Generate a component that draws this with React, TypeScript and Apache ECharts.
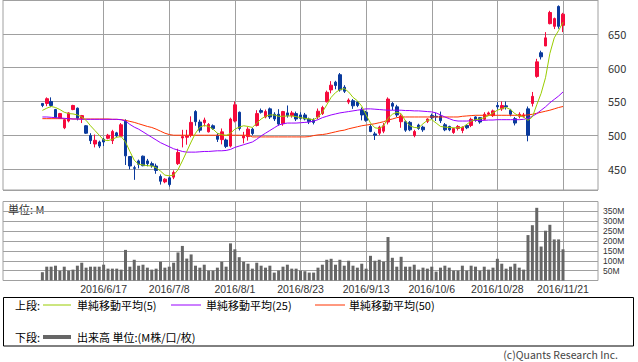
import React, { useEffect, useRef } from 'react';
import * as echarts from 'echarts';

const DATES = [
  '2016/5/30','2016/5/31','2016/6/1','2016/6/2','2016/6/3','2016/6/6','2016/6/7','2016/6/8','2016/6/9','2016/6/10',
  '2016/6/13','2016/6/14','2016/6/15','2016/6/16','2016/6/17','2016/6/20','2016/6/21','2016/6/22','2016/6/23','2016/6/24',
  '2016/6/27','2016/6/28','2016/6/29','2016/6/30','2016/7/1','2016/7/4','2016/7/5','2016/7/6','2016/7/7','2016/7/8',
  '2016/7/11','2016/7/12','2016/7/13','2016/7/14','2016/7/15','2016/7/19','2016/7/20','2016/7/21','2016/7/22','2016/7/25',
  '2016/7/26','2016/7/27','2016/7/28','2016/7/29','2016/8/1','2016/8/2','2016/8/3','2016/8/4','2016/8/5','2016/8/8',
  '2016/8/9','2016/8/10','2016/8/12','2016/8/15','2016/8/16','2016/8/17','2016/8/18','2016/8/19','2016/8/22','2016/8/23',
  '2016/8/24','2016/8/25','2016/8/26','2016/8/29','2016/8/30','2016/8/31','2016/9/1','2016/9/2','2016/9/5','2016/9/6',
  '2016/9/7','2016/9/8','2016/9/9','2016/9/12','2016/9/13','2016/9/14','2016/9/15','2016/9/16','2016/9/20','2016/9/21',
  '2016/9/23','2016/9/26','2016/9/27','2016/9/28','2016/9/29','2016/9/30','2016/10/3','2016/10/4','2016/10/5','2016/10/6',
  '2016/10/7','2016/10/11','2016/10/12','2016/10/13','2016/10/14','2016/10/17','2016/10/18','2016/10/19','2016/10/20','2016/10/21',
  '2016/10/24','2016/10/25','2016/10/26','2016/10/27','2016/10/28','2016/10/31','2016/11/1','2016/11/2','2016/11/4','2016/11/7',
  '2016/11/8','2016/11/9','2016/11/10','2016/11/11','2016/11/14','2016/11/15','2016/11/16','2016/11/17','2016/11/18','2016/11/21',
];

const LABEL_DATES = ['2016/6/17', '2016/7/8', '2016/8/1', '2016/8/23', '2016/9/13', '2016/10/6', '2016/10/28', '2016/11/21'];

const OPEN = [
  547, 547, 550, 538, 525, 511, 521, 538, 540, 525,
  514, 499.5, 487, 490, 494, 495.5, 492, 503.5, 498.5, 521,
  468.5, 452, 462, 469, 462, 458, 454.5, 439, 431, 437,
  438, 458, 496, 497, 500, 535, 519.5, 518.5, 505, 514,
  500, 493.5, 493, 484, 521, 534, 496, 498, 509, 514.5,
  536.5, 527, 539, 531, 531, 517, 533, 529, 532, 530,
  530, 524, 522, 527, 532, 549.5, 567, 578.5, 589.5, 571,
  549, 551, 549, 537.5, 534, 513, 502, 503, 506, 519.5,
  547, 542, 520, 520, 519, 499.5, 515, 512, 520.5, 529,
  528, 528.5, 515.5, 513, 504, 510, 507, 514.5, 514.5, 527,
  526, 523.5, 531, 529, 544, 539, 543.5, 537, 524.5, 528,
  528, 539, 547, 587, 622, 632, 665, 661, 690.5, 662.5,
];
const CLOSE = [
  544, 554, 544, 526, 532, 523, 533, 544, 525, 529,
  503, 492, 492.5, 484, 490, 500, 505.5, 499, 515.5, 469.5,
  454.5, 451, 457, 455, 458, 455, 448, 432, 435, 427,
  445, 474.5, 498, 499, 519, 520, 507.5, 522.5, 516, 510,
  494, 505, 483.5, 524, 545, 510, 499, 509, 502.5, 532,
  534, 535, 527, 524, 516.5, 535, 529, 533, 524, 525,
  524, 520, 519, 535.5, 541, 563.5, 574, 573.5, 567, 565,
  552, 543.5, 544, 530, 522, 505.5, 500, 512, 514, 553.5,
  543, 530, 528.5, 507.5, 508, 505.5, 510, 508, 524, 526,
  527, 521.5, 508, 508, 510, 513, 512, 511, 523.5, 522,
  519.5, 531, 533, 536, 542, 544, 542, 531, 518, 531,
  530, 500, 557.5, 608.5, 616, 644, 681.5, 672.5, 661, 679,
];
const LOW = [
  541.5, 543, 541.5, 525, 524, 509, 519, 537, 522, 518,
  502, 487, 482, 481, 484, 494, 487, 497, 497, 456,
  449.5, 434, 451, 454, 454, 452, 443, 427, 429, 424,
  435, 456, 482, 486, 497, 514, 504, 513, 504, 508,
  490, 486.5, 481, 482, 519, 507, 488, 492, 500, 513,
  532, 525, 524, 521, 514, 514, 526, 526, 521, 523,
  522, 516.5, 516, 524, 530, 548.5, 562, 568, 564.5, 562.5,
  546, 539, 541.5, 522, 520, 504.5, 493, 500, 503, 516,
  537, 527, 511, 505, 506, 497, 508, 505, 518, 524,
  521, 518, 506, 506, 502, 507, 503, 509, 512, 520,
  517, 522, 529, 527, 538, 536, 538, 528, 514.5, 525,
  526, 491, 542.5, 585, 612, 632, 664, 657, 657.5, 652.5,
];
const HIGH = [
  547.5, 556, 556, 539, 533, 524, 534, 545, 541, 530,
  515, 503, 501, 492, 496, 502, 508, 505, 518, 523.5,
  469, 455, 464, 470, 465, 461, 458, 442, 436.5, 439,
  448, 480, 508, 508, 528, 537, 523, 526, 518, 516,
  503, 510, 495, 526, 550, 535, 505, 512, 511, 537,
  539.5, 538, 541, 534, 538.5, 536, 544, 536, 535, 534,
  533, 526, 525, 539.5, 543.5, 566, 580, 580.5, 592, 574,
  554.5, 553.5, 550.5, 541, 536, 516, 505, 514, 518, 556,
  549, 545, 531, 522, 521, 508, 517, 514, 525, 532,
  533, 535, 518, 514, 511, 515, 513, 516, 526, 528,
  527, 534, 535, 538, 549, 550, 550, 539, 527, 534,
  533, 542.5, 564, 613, 625, 652.5, 684, 674, 692, 681,
];

const MA5 = [
  536.7, 540, 542.5, 541, 538, 534, 532, 531.5, 530, 527,
  522, 514, 507, 500, 493, 492, 494, 497, 498, 490,
  476, 463, 457, 456, 455, 454.5, 452, 447, 441, 440,
  441, 449, 462, 476, 490, 503, 512, 514.5, 513, 509,
  503, 501, 499.5, 503, 509, 512, 514, 513, 511.5, 518,
  524, 528, 530, 530, 528, 528, 528.5, 528.5, 527.5, 526,
  525, 524, 523, 527, 534, 545, 556, 563, 567.5, 569,
  564, 556, 551, 543, 530, 518, 511, 510, 514, 525,
  531, 534, 532, 521, 514, 511.5, 511, 517, 522, 523,
  518, 513, 512, 511.5, 511, 511, 511.5, 516, 521, 523,
  524, 526, 529, 533, 537, 539.5, 541, 538, 532, 528.5,
  527, 522, 527, 545, 562, 585, 621, 644, 655, 667,
];
const MA25 = [
  527, 527, 526.5, 526, 525.5, 525, 524.5, 524, 524, 523.5,
  523.5, 523.5, 523.5, 523.5, 523.5, 523.5, 523.5, 523.5, 523, 521,
  516, 512, 509, 505, 501, 497, 493, 489, 486, 483,
  480, 478, 476, 475, 475, 475, 475.5, 476, 476, 476.5,
  477, 477, 477.5, 479, 482, 484, 486, 488, 490, 494,
  499, 503, 507, 511, 515, 517, 518, 518, 518, 518.5,
  519, 519.5, 521, 523, 526, 528, 530, 531.5, 533, 534,
  535, 536, 537, 538, 539, 539, 538.5, 538, 537.5, 537,
  537, 537, 537, 536.5, 536.5, 536, 536, 535.5, 535, 534.5,
  533, 530, 527, 524.5, 522, 521, 521, 521, 521.5, 522,
  522, 522, 522.5, 522.5, 523, 523, 523, 523, 523, 523,
  523.5, 525, 528, 532, 537, 542, 548, 553, 558, 564,
];
const MA50 = [
  524.5, 524.5, 524.5, 524.5, 524.5, 524.5, 524.5, 524, 524, 524,
  524, 524, 524, 524, 524, 524, 523.5, 523.5, 523, 522,
  520.5, 519, 517, 515, 513, 511.5, 509, 506, 503, 501,
  500, 500, 500, 500, 500, 500, 500, 500, 500, 500,
  500, 500, 500, 500, 500, 500, 500, 500, 497.5, 497.5,
  497.5, 497.5, 497.5, 497.5, 497.5, 497.5, 497.5, 497.5, 497.5, 497.5,
  497.5, 498, 499.5, 500.5, 501, 502, 503.5, 505, 506.5, 507.5,
  509.5, 511, 512.5, 514, 515, 516, 517, 518.5, 520, 522.5,
  524, 526, 527, 527, 527, 527, 527, 527, 527, 527,
  527, 527, 527, 527, 527, 527, 528, 528.5, 529, 529.5,
  529.5, 529.5, 529.5, 529.5, 529.5, 529.5, 529.5, 529.5, 529.5, 529.5,
  529.5, 530, 531, 532.5, 534, 535.5, 537, 539, 541, 542.5,
];

const VOLUME = [
  42, 70, 70, 75, 50, 70, 50, 55, 75, 90,
  65, 70, 70, 70, 80, 60, 60, 60, 55, 155,
  70, 105, 75, 80, 65, 55, 60, 95, 65, 70,
  90, 142, 175, 111, 132, 75, 65, 80, 50, 50,
  65, 95, 70, 188, 158, 118, 95, 85, 60, 90,
  75, 65, 75, 40, 50, 70, 80, 60, 60, 50,
  47, 40, 40, 65, 80, 105, 110, 80, 105, 75,
  100, 75, 65, 85, 60, 125, 100, 105, 95, 220,
  115, 70, 120, 70, 70, 80, 55, 65, 60, 70,
  45, 65, 75, 65, 50, 50, 75, 50, 75, 70,
  50, 70, 55, 65, 110, 85, 60, 70, 85, 65,
  55, 230, 280, 368, 172, 252, 282, 208, 208, 158,
];

const PRICE_TICKS = [450, 500, 550, 600, 650];
const VOLUME_TICKS = [50, 100, 150, 200, 250, 300, 350];

const PAD_BEFORE = 9;
const PAD_AFTER = 8;

const FONT = "'Noto Sans CJK JP', 'Noto Sans', sans-serif";
const NARROW_FONT = "'Liberation Sans Narrow', 'Liberation Sans', sans-serif";
const LATIN_FONT = "'Liberation Sans', 'DejaVu Sans', sans-serif";
const GRID_LINE = '#a0a0a0';
const UP = '#f50a3c';
const DOWN = '#0a3a9c';

export default function App() {
  const ref = useRef<HTMLDivElement>(null);

  useEffect(() => {
    if (!ref.current) return;
    const chart = echarts.init(ref.current, null, { renderer: 'svg' });

    const before = Array.from({ length: PAD_BEFORE }, (_, i) => `_b${i}`);
    const after = Array.from({ length: PAD_AFTER }, (_, i) => `_a${i}`);
    const cats = [...before, ...DATES, ...after];
    const pad = (arr: any[]) => [
      ...Array(PAD_BEFORE).fill('-'),
      ...arr,
      ...Array(PAD_AFTER).fill('-'),
    ];
    const candles = pad(DATES.map((_, i) => [OPEN[i], CLOSE[i], LOW[i], HIGH[i]]));
    const isLabel = (_i: number, v: string) => LABEL_DATES.indexOf(v) >= 0;

    const xAxisFor = (g: number) => ({
      type: 'category',
      gridIndex: g,
      data: cats,
      boundaryGap: false,
      axisLine: { show: false },
      axisTick: { show: false },
      axisLabel: {
        show: g === 1,
        interval: isLabel,
        fontSize: 10.5,
        lineHeight: 11,
        color: '#333',
        margin: 3,
        fontFamily: LATIN_FONT,
      },
      splitLine: {
        show: true,
        interval: isLabel,
        lineStyle: { color: GRID_LINE, width: 1 },
      },
    });

    const maLine = (name: string, data: number[], color: string) => ({
      name,
      type: 'line',
      xAxisIndex: 0,
      yAxisIndex: 0,
      data: pad(data),
      symbol: 'none',
      lineStyle: { color, width: 1 },
      itemStyle: { color },
      z: 5,
    });

    const rowY1 = 305;
    const rowY2 = 337;
    const textStyle = (text: string, x: number, y: number, extra: any = {}) => ({
      type: 'text',
      x,
      y,
      style: {
        text,
        fontSize: 11,
        fontFamily: FONT,
        fill: '#000',
        verticalAlign: 'middle',
        align: 'left',
        ...extra,
      },
    });

    chart.setOption({
      animation: false,
      backgroundColor: '#fff',
      grid: [
        { left: 3, top: 0, width: 595, height: 190, show: true, borderColor: GRID_LINE, borderWidth: 1 },
        { left: 3, top: 201.5, width: 595, height: 79, show: true, borderColor: GRID_LINE, borderWidth: 1 },
      ],
      xAxis: [xAxisFor(0), xAxisFor(1)],
      yAxis: [
        {
          type: 'value',
          gridIndex: 0,
          position: 'right',
          min: 419,
          max: 700,
          splitNumber: 5,
          axisLine: { show: false },
          axisTick: { show: false },
          axisLabel: {
            formatter: (v: number) => (PRICE_TICKS.indexOf(v) >= 0 ? String(v) : ''),
            showMinLabel: false,
            showMaxLabel: false,
            margin: 10,
            fontSize: 11,
            color: '#333',
            fontFamily: FONT,
          },
          splitLine: { lineStyle: { color: GRID_LINE, width: 1 } },
        },
        {
          type: 'value',
          gridIndex: 1,
          position: 'right',
          min: 0,
          max: 400,
          interval: 50,
          axisLine: { show: false },
          axisTick: { show: false },
          axisLabel: {
            formatter: (v: number) => (VOLUME_TICKS.indexOf(v) >= 0 ? `${v}M` : ''),
            showMinLabel: false,
            showMaxLabel: false,
            margin: 5,
            fontSize: 8.5,
            lineHeight: 9,
            color: '#333',
            fontFamily: NARROW_FONT,
          },
          splitLine: { lineStyle: { color: GRID_LINE, width: 1 } },
        },
      ],
      series: [
        {
          name: 'price',
          type: 'candlestick',
          xAxisIndex: 0,
          yAxisIndex: 0,
          data: candles,
          barWidth: 3,
          itemStyle: {
            color: UP,
            color0: DOWN,
            borderColor: UP,
            borderColor0: DOWN,
            borderWidth: 1,
          },
        },
        maLine('MA50', MA50, '#ff3300'),
        maLine('MA25', MA25, '#9900ff'),
        maLine('MA5', MA5, '#99cc00'),
        {
          name: 'volume',
          type: 'bar',
          xAxisIndex: 1,
          yAxisIndex: 1,
          data: pad(VOLUME),
          barWidth: 3,
          itemStyle: { color: '#666666' },
        },
      ],
      graphic: [
        textStyle('単位: M', 8, 209, { fill: '#333' }),
        {
          type: 'rect',
          shape: { x: 3.5, y: 297.5, width: 630, height: 48.5 },
          style: { fill: 'none', stroke: '#000', lineWidth: 1 },
        },
        textStyle('上段:', 15, rowY1),
        { type: 'line', shape: { x1: 43, y1: rowY1, x2: 71, y2: rowY1 }, style: { stroke: '#99cc00', lineWidth: 1 } },
        textStyle('単純移動平均(5)', 77, rowY1),
        { type: 'line', shape: { x1: 171, y1: rowY1, x2: 201, y2: rowY1 }, style: { stroke: '#9900ff', lineWidth: 1 } },
        textStyle('単純移動平均(25)', 206, rowY1),
        { type: 'line', shape: { x1: 315, y1: rowY1, x2: 345, y2: rowY1 }, style: { stroke: '#ff3300', lineWidth: 1 } },
        textStyle('単純移動平均(50)', 349, rowY1),
        textStyle('下段:', 15, rowY2),
        { type: 'line', shape: { x1: 43, y1: rowY2, x2: 71, y2: rowY2 }, style: { stroke: '#666666', lineWidth: 4 } },
        textStyle('出来高 単位:(M株/口/枚)', 77, rowY2),
        textStyle('(c)Quants Research Inc.', 618, 354, { align: 'right', fill: '#444', fontSize: 10.5 }),
      ],
    });

    return () => chart.dispose();
  }, []);

  return (
    <div
      ref={ref}
      style={{ position: 'absolute', left: 0, top: 0, width: 638, height: 362, background: '#fff' }}
    />
  );
}
